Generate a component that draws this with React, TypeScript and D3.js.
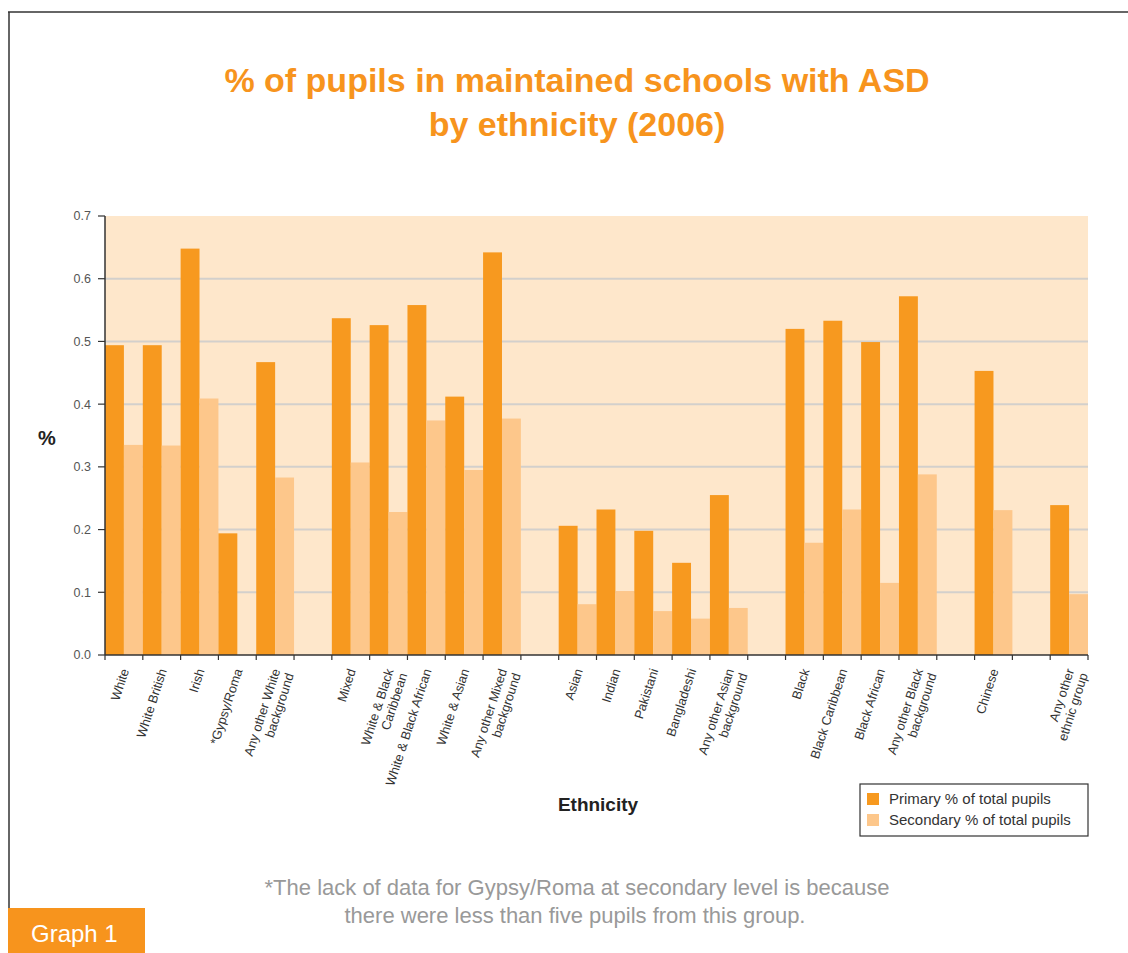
import React from "react";
import * as d3 from "d3";

// slots along the x axis; "" marks an empty gap between groups
const categories = [
  "White", "White British", "Irish", "*Gypsy/Roma", "Any other White\nbackground", "",
  "Mixed", "White & Black\nCaribbean", "White & Black African", "White & Asian", "Any other Mixed\nbackground", "",
  "Asian", "Indian", "Pakistani", "Bangladeshi", "Any other Asian\nbackground", "",
  "Black", "Black Caribbean", "Black African", "Any other Black\nbackground", "",
  "Chinese", "", "Any other\nethnic group",
];
const primary = [
  0.494, 0.494, 0.648, 0.194, 0.467, null,
  0.537, 0.526, 0.558, 0.412, 0.642, null,
  0.206, 0.232, 0.198, 0.147, 0.255, null,
  0.520, 0.533, 0.499, 0.572, null,
  0.453, null, 0.239,
];
const secondary = [
  0.335, 0.334, 0.409, null, 0.283, null,
  0.307, 0.228, 0.374, 0.295, 0.377, null,
  0.081, 0.102, 0.070, 0.058, 0.075, null,
  0.179, 0.232, 0.115, 0.288, null,
  0.231, null, 0.097,
];
const seriesNames = ["Primary % of total pupils", "Secondary % of total pupils"];
const yTicks = [0, 0.1, 0.2, 0.3, 0.4, 0.5, 0.6, 0.7];

const colPrimary = "#F7991F";
const colSecondary = "#FDC78B";
const bg = "#FEE7CB";

export default function App() {
  const left = 105, right = 1088, top = 216, bottom = 655;
  const x = d3.scaleBand<number>().domain(d3.range(categories.length)).range([left, right]).padding(0);
  const inner = d3.scaleBand<string>().domain(["p", "s"]).range([0, x.bandwidth()]).padding(0);
  const y = d3.scaleLinear().domain([0, 0.7]).range([bottom, top]);

  const sans = "'Liberation Sans', Arial, sans-serif";

  return (
    <svg width={1128} height={953} style={{ position: "absolute", left: 0, top: 0, background: "#fff" }}>
      {/* frame */}
      <line x1={8} x2={1128} y1={12} y2={12} stroke="#333" strokeWidth={1.5} />
      <line x1={9} x2={9} y1={12} y2={953} stroke="#333" strokeWidth={1.5} />

      {/* title */}
      <g fill="#F7941D" fontFamily={sans} fontWeight="bold" fontSize={34} textAnchor="middle">
        <text x={577} y={92}>% of pupils in maintained schools with ASD</text>
        <text x={577} y={136}>by ethnicity (2006)</text>
      </g>

      {/* plot background & grid */}
      <rect x={left} y={top} width={right - left} height={bottom - top} fill={bg} />
      {yTicks.filter((t) => t > 0 && t < 0.7).map((t) => (
        <line key={t} x1={left} x2={right} y1={y(t)} y2={y(t)} stroke="#d3d0cc" strokeWidth={2} />
      ))}

      {/* bars */}
      {categories.map((c, i) => (
        <g key={i}>
          {primary[i] != null && (
            <rect x={x(i)! + inner("p")!} y={y(primary[i]!)} width={inner.bandwidth()}
              height={y(0) - y(primary[i]!)} fill={colPrimary} />
          )}
          {secondary[i] != null && (
            <rect x={x(i)! + inner("s")!} y={y(secondary[i]!)} width={inner.bandwidth()}
              height={y(0) - y(secondary[i]!)} fill={colSecondary} />
          )}
        </g>
      ))}

      {/* y axis */}
      <line x1={left} x2={left} y1={top} y2={bottom} stroke="#333" strokeWidth={1.5} />
      {yTicks.map((t) => (
        <g key={t}>
          <line x1={left - 7} x2={left} y1={y(t)} y2={y(t)} stroke="#333" strokeWidth={1.2} />
          <text x={91} y={y(t)} dy="0.35em" textAnchor="end" fontFamily={sans} fontSize={12.5} fill="#555">
            {t.toFixed(1)}
          </text>
        </g>
      ))}
      <text x={47} y={445} textAnchor="middle" fontFamily={sans} fontWeight="bold" fontSize={20} fill="#222">%</text>

      {/* x axis */}
      <line x1={left} x2={right} y1={bottom} y2={bottom} stroke="#333" strokeWidth={1.5} />
      {d3.range(categories.length + 1).map((i) => {
        const xx = i < categories.length ? x(i)! : right;
        return <line key={i} x1={xx} x2={xx} y1={bottom} y2={bottom + 5} stroke="#333" strokeWidth={1.2} />;
      })}
      {categories.map((c, i) => {
        if (!c) return null;
        const cx = x(i)! + x.bandwidth() / 2;
        return (
          <text key={i} transform={`translate(${cx + 1},${bottom + 14}) rotate(-72)`} textAnchor="end"
            fontFamily={sans} fontSize={12.8} fill="#333">
            {c.split("\n").map((ln, j) => (
              <tspan key={j} x={0} dy={j === 0 ? "0.35em" : "1.12em"}>{ln}</tspan>
            ))}
          </text>
        );
      })}
      <text x={598} y={811} textAnchor="middle" fontFamily={sans} fontWeight="bold" fontSize={19} fill="#222">
        Ethnicity
      </text>

      {/* legend */}
      <rect x={860} y={784} width={228} height={52} fill="#fff" stroke="#333" strokeWidth={1.2} />
      {seriesNames.map((s, i) => (
        <g key={s}>
          <rect x={867} y={793 + i * 21} width={12} height={12} fill={i === 0 ? colPrimary : colSecondary} />
          <text x={889} y={799 + i * 21} dy="0.35em" fontFamily={sans} fontSize={15} fill="#333">{s}</text>
        </g>
      ))}

      {/* footnote */}
      <g fontFamily={sans} fontSize={22} fill="#999" textAnchor="middle">
        <text x={577} y={895}>*The lack of data for Gypsy/Roma at secondary level is because</text>
        <text x={575} y={923}>there were less than five pupils from this group.</text>
      </g>

      {/* graph tag */}
      <rect x={8} y={908} width={137} height={45} fill="#F7941D" />
      <text x={31} y={942} fontFamily={sans} fontSize={24} fill="#fff">Graph 1</text>
    </svg>
  );
}
